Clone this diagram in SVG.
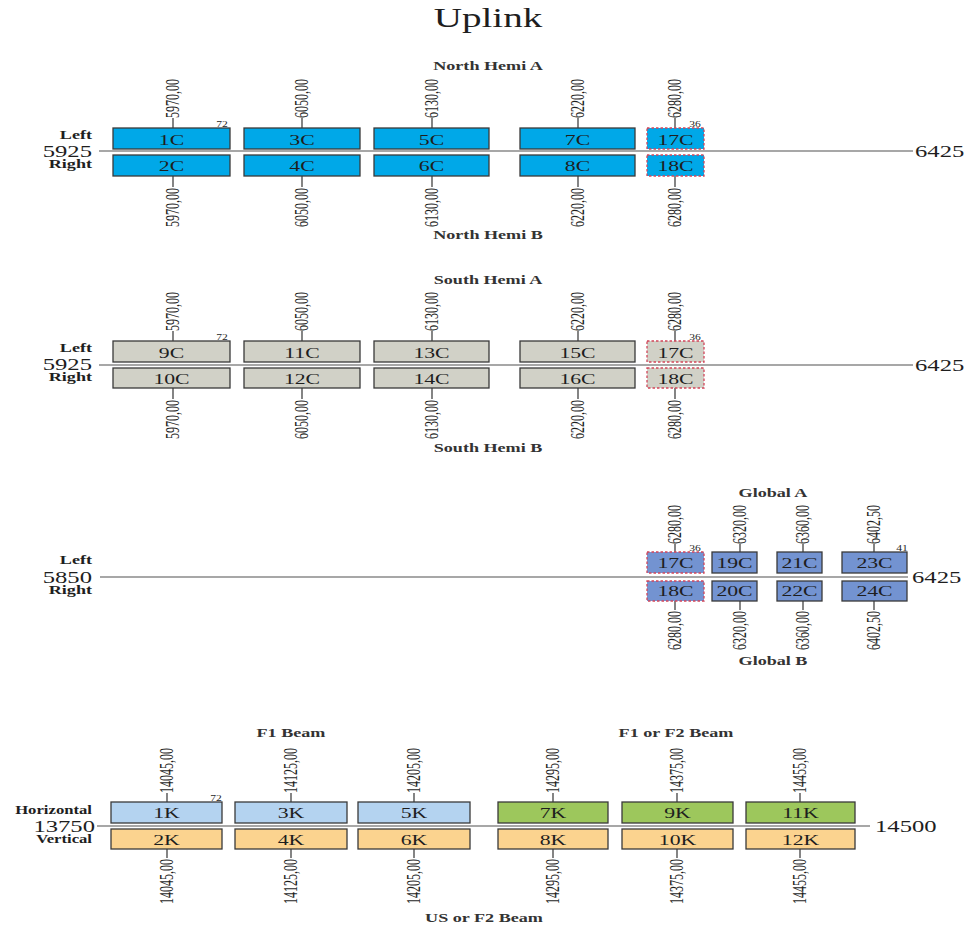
<svg xmlns="http://www.w3.org/2000/svg" width="970" height="929" viewBox="0 0 970 929">
<style>
text{font-family:"Liberation Serif","Times New Roman",serif;fill:#1e1e1e}
.title{font-size:27px;text-anchor:middle}
.sec{font-size:12.5px;font-weight:bold;text-anchor:middle;fill:#333}
.side{font-size:12.5px;font-weight:bold;text-anchor:end}
.hv{font-size:11.5px;font-weight:bold;text-anchor:end}
.big{font-size:17px}
.bigr{font-size:17px;text-anchor:end}
.lbl{font-size:15px;text-anchor:middle}
.sm{font-size:8px;text-anchor:middle}
.tk{font-size:12px}
.tkb{font-size:12px;text-anchor:end}
.axis{stroke:#8a8a8a;stroke-width:1.5;fill:none}
.tick{stroke:#333;stroke-width:1.2}
rect{stroke:#3a3a3a;stroke-width:1.3}
.nb{fill:#00A8E8}
.gr{fill:#D1D1C7}
.gb{fill:#7393D1}
.kb{fill:#B4D3F0}
.kg{fill:#9DC75C}
.ko{fill:#FBD38F}
.dash{stroke:#D2455A;stroke-dasharray:2.5 2}
</style>

<text class="title" transform="translate(488,27) scale(1.45,1)">Uplink</text>

<!-- axes -->
<g id="axes">
<line class="axis" x1="99" y1="151" x2="913" y2="151"/>
<line class="axis" x1="99" y1="365" x2="913" y2="365"/>
<line class="axis" x1="100" y1="577" x2="908" y2="577"/>
<line class="axis" x1="97" y1="826" x2="870" y2="826"/>
</g>

<!-- section / side labels -->
<g id="labels">
<text class="sec" transform="translate(488,70) scale(1.45,1)">North Hemi A</text>
<text class="sec" transform="translate(488,239) scale(1.45,1)">North Hemi B</text>
<text class="sec" transform="translate(488,284) scale(1.45,1)">South Hemi A</text>
<text class="sec" transform="translate(488,452) scale(1.45,1)">South Hemi B</text>
<text class="sec" transform="translate(773,497) scale(1.45,1)">Global A</text>
<text class="sec" transform="translate(773,665) scale(1.45,1)">Global B</text>
<text class="sec" transform="translate(291,737) scale(1.45,1)">F1 Beam</text>
<text class="sec" transform="translate(676,737) scale(1.45,1)">F1 or F2 Beam</text>
<text class="sec" transform="translate(484,922) scale(1.45,1)">US or F2 Beam</text>

<text class="side" transform="translate(92,139) scale(1.45,1)">Left</text>
<text class="bigr" transform="translate(92,157) scale(1.45,1)">5925</text>
<text class="side" transform="translate(92,168) scale(1.45,1)">Right</text>
<text class="big" transform="translate(915,157) scale(1.45,1)">6425</text>

<text class="side" transform="translate(92,352) scale(1.45,1)">Left</text>
<text class="bigr" transform="translate(92,370) scale(1.45,1)">5925</text>
<text class="side" transform="translate(92,381) scale(1.45,1)">Right</text>
<text class="big" transform="translate(915,371) scale(1.45,1)">6425</text>

<text class="side" transform="translate(92,564) scale(1.45,1)">Left</text>
<text class="bigr" transform="translate(92,583) scale(1.45,1)">5850</text>
<text class="side" transform="translate(92,594) scale(1.45,1)">Right</text>
<text class="big" transform="translate(912,583) scale(1.45,1)">6425</text>

<text class="hv" transform="translate(92,814) scale(1.45,1)">Horizontal</text>
<text class="bigr" transform="translate(95,832) scale(1.45,1)">13750</text>
<text class="hv" transform="translate(92,843) scale(1.45,1)">Vertical</text>
<text class="big" transform="translate(875,832) scale(1.45,1)">14500</text>

<text class="sm" transform="translate(222,127) scale(1.45,1)">72</text>
<text class="sm" transform="translate(695,127) scale(1.45,1)">36</text>
<text class="sm" transform="translate(222,340) scale(1.45,1)">72</text>
<text class="sm" transform="translate(695,340) scale(1.45,1)">36</text>
<text class="sm" transform="translate(695,551) scale(1.45,1)">36</text>
<text class="sm" transform="translate(902,551) scale(1.45,1)">41</text>
<text class="sm" transform="translate(216,801) scale(1.45,1)">72</text>
</g>

<!-- connectors: frequency ticks -->
<g id="connectors">
<line class="tick" x1="173" y1="118" x2="173" y2="128"/><line class="tick" x1="173" y1="176" x2="173" y2="187"/>
<line class="tick" x1="302" y1="118" x2="302" y2="128"/><line class="tick" x1="302" y1="176" x2="302" y2="187"/>
<line class="tick" x1="432" y1="118" x2="432" y2="128"/><line class="tick" x1="432" y1="176" x2="432" y2="187"/>
<line class="tick" x1="578" y1="118" x2="578" y2="128"/><line class="tick" x1="578" y1="176" x2="578" y2="187"/>
<line class="tick" x1="675" y1="118" x2="675" y2="128"/><line class="tick" x1="675" y1="176" x2="675" y2="187"/>
<line class="tick" x1="173" y1="331" x2="173" y2="341"/><line class="tick" x1="173" y1="388" x2="173" y2="399"/>
<line class="tick" x1="302" y1="331" x2="302" y2="341"/><line class="tick" x1="302" y1="388" x2="302" y2="399"/>
<line class="tick" x1="432" y1="331" x2="432" y2="341"/><line class="tick" x1="432" y1="388" x2="432" y2="399"/>
<line class="tick" x1="578" y1="331" x2="578" y2="341"/><line class="tick" x1="578" y1="388" x2="578" y2="399"/>
<line class="tick" x1="675" y1="331" x2="675" y2="341"/><line class="tick" x1="675" y1="388" x2="675" y2="399"/>
<line class="tick" x1="675" y1="544" x2="675" y2="552"/><line class="tick" x1="675" y1="601" x2="675" y2="610"/>
<line class="tick" x1="740" y1="544" x2="740" y2="552"/><line class="tick" x1="740" y1="601" x2="740" y2="610"/>
<line class="tick" x1="803" y1="544" x2="803" y2="552"/><line class="tick" x1="803" y1="601" x2="803" y2="610"/>
<line class="tick" x1="874" y1="544" x2="874" y2="552"/><line class="tick" x1="874" y1="601" x2="874" y2="610"/>
<line class="tick" x1="167" y1="793" x2="167" y2="802"/><line class="tick" x1="167" y1="849" x2="167" y2="858"/>
<line class="tick" x1="291" y1="793" x2="291" y2="802"/><line class="tick" x1="291" y1="849" x2="291" y2="858"/>
<line class="tick" x1="414" y1="793" x2="414" y2="802"/><line class="tick" x1="414" y1="849" x2="414" y2="858"/>
<line class="tick" x1="553" y1="793" x2="553" y2="802"/><line class="tick" x1="553" y1="849" x2="553" y2="858"/>
<line class="tick" x1="677" y1="793" x2="677" y2="802"/><line class="tick" x1="677" y1="849" x2="677" y2="858"/>
<line class="tick" x1="800" y1="793" x2="800" y2="802"/><line class="tick" x1="800" y1="849" x2="800" y2="858"/>
</g>

<g id="tick-labels">
<text class="tk" dy="0.35em" transform="translate(172,118) scale(1.6,1) rotate(-90)">5970,00</text>
<text class="tkb" dy="0.35em" transform="translate(172,188) scale(1.6,1) rotate(-90)">5970,00</text>
<text class="tk" dy="0.35em" transform="translate(301,118) scale(1.6,1) rotate(-90)">6050,00</text>
<text class="tkb" dy="0.35em" transform="translate(301,188) scale(1.6,1) rotate(-90)">6050,00</text>
<text class="tk" dy="0.35em" transform="translate(431,118) scale(1.6,1) rotate(-90)">6130,00</text>
<text class="tkb" dy="0.35em" transform="translate(431,188) scale(1.6,1) rotate(-90)">6130,00</text>
<text class="tk" dy="0.35em" transform="translate(577,118) scale(1.6,1) rotate(-90)">6220,00</text>
<text class="tkb" dy="0.35em" transform="translate(577,188) scale(1.6,1) rotate(-90)">6220,00</text>
<text class="tk" dy="0.35em" transform="translate(674,118) scale(1.6,1) rotate(-90)">6280,00</text>
<text class="tkb" dy="0.35em" transform="translate(674,188) scale(1.6,1) rotate(-90)">6280,00</text>
<text class="tk" dy="0.35em" transform="translate(172,331) scale(1.6,1) rotate(-90)">5970,00</text>
<text class="tkb" dy="0.35em" transform="translate(172,400) scale(1.6,1) rotate(-90)">5970,00</text>
<text class="tk" dy="0.35em" transform="translate(301,331) scale(1.6,1) rotate(-90)">6050,00</text>
<text class="tkb" dy="0.35em" transform="translate(301,400) scale(1.6,1) rotate(-90)">6050,00</text>
<text class="tk" dy="0.35em" transform="translate(431,331) scale(1.6,1) rotate(-90)">6130,00</text>
<text class="tkb" dy="0.35em" transform="translate(431,400) scale(1.6,1) rotate(-90)">6130,00</text>
<text class="tk" dy="0.35em" transform="translate(577,331) scale(1.6,1) rotate(-90)">6220,00</text>
<text class="tkb" dy="0.35em" transform="translate(577,400) scale(1.6,1) rotate(-90)">6220,00</text>
<text class="tk" dy="0.35em" transform="translate(674,331) scale(1.6,1) rotate(-90)">6280,00</text>
<text class="tkb" dy="0.35em" transform="translate(674,400) scale(1.6,1) rotate(-90)">6280,00</text>
<text class="tk" dy="0.35em" transform="translate(674,544) scale(1.6,1) rotate(-90)">6280,00</text>
<text class="tkb" dy="0.35em" transform="translate(674,611) scale(1.6,1) rotate(-90)">6280,00</text>
<text class="tk" dy="0.35em" transform="translate(739,544) scale(1.6,1) rotate(-90)">6320,00</text>
<text class="tkb" dy="0.35em" transform="translate(739,611) scale(1.6,1) rotate(-90)">6320,00</text>
<text class="tk" dy="0.35em" transform="translate(802,544) scale(1.6,1) rotate(-90)">6360,00</text>
<text class="tkb" dy="0.35em" transform="translate(802,611) scale(1.6,1) rotate(-90)">6360,00</text>
<text class="tk" dy="0.35em" transform="translate(873,544) scale(1.6,1) rotate(-90)">6402,50</text>
<text class="tkb" dy="0.35em" transform="translate(873,611) scale(1.6,1) rotate(-90)">6402,50</text>
<text class="tk" dy="0.35em" transform="translate(166,793) scale(1.6,1) rotate(-90)">14045,00</text>
<text class="tkb" dy="0.35em" transform="translate(166,859) scale(1.6,1) rotate(-90)">14045,00</text>
<text class="tk" dy="0.35em" transform="translate(290,793) scale(1.6,1) rotate(-90)">14125,00</text>
<text class="tkb" dy="0.35em" transform="translate(290,859) scale(1.6,1) rotate(-90)">14125,00</text>
<text class="tk" dy="0.35em" transform="translate(413,793) scale(1.6,1) rotate(-90)">14205,00</text>
<text class="tkb" dy="0.35em" transform="translate(413,859) scale(1.6,1) rotate(-90)">14205,00</text>
<text class="tk" dy="0.35em" transform="translate(552,793) scale(1.6,1) rotate(-90)">14295,00</text>
<text class="tkb" dy="0.35em" transform="translate(552,859) scale(1.6,1) rotate(-90)">14295,00</text>
<text class="tk" dy="0.35em" transform="translate(676,793) scale(1.6,1) rotate(-90)">14375,00</text>
<text class="tkb" dy="0.35em" transform="translate(676,859) scale(1.6,1) rotate(-90)">14375,00</text>
<text class="tk" dy="0.35em" transform="translate(799,793) scale(1.6,1) rotate(-90)">14455,00</text>
<text class="tkb" dy="0.35em" transform="translate(799,859) scale(1.6,1) rotate(-90)">14455,00</text>
</g>

<g id="n1-1C"><rect class="nb" x="113" y="128" width="117" height="21"/><text class="lbl" transform="translate(171.5,145) scale(1.45,1)">1C</text></g>
<g id="n1-2C"><rect class="nb" x="113" y="155" width="117" height="21"/><text class="lbl" transform="translate(171.5,171) scale(1.45,1)">2C</text></g>
<g id="n1-3C"><rect class="nb" x="244" y="128" width="116" height="21"/><text class="lbl" transform="translate(302,145) scale(1.45,1)">3C</text></g>
<g id="n1-4C"><rect class="nb" x="244" y="155" width="116" height="21"/><text class="lbl" transform="translate(302,171) scale(1.45,1)">4C</text></g>
<g id="n1-5C"><rect class="nb" x="374" y="128" width="115" height="21"/><text class="lbl" transform="translate(431.5,145) scale(1.45,1)">5C</text></g>
<g id="n1-6C"><rect class="nb" x="374" y="155" width="115" height="21"/><text class="lbl" transform="translate(431.5,171) scale(1.45,1)">6C</text></g>
<g id="n1-7C"><rect class="nb" x="520" y="128" width="115" height="21"/><text class="lbl" transform="translate(577.5,145) scale(1.45,1)">7C</text></g>
<g id="n1-8C"><rect class="nb" x="520" y="155" width="115" height="21"/><text class="lbl" transform="translate(577.5,171) scale(1.45,1)">8C</text></g>
<g id="n1-17C"><rect class="nb dash" x="647" y="128" width="57" height="21"/><text class="lbl" transform="translate(675.5,145) scale(1.45,1)">17C</text></g>
<g id="n1-18C"><rect class="nb dash" x="647" y="155" width="57" height="21"/><text class="lbl" transform="translate(675.5,171) scale(1.45,1)">18C</text></g>

<g id="n2-9C"><rect class="gr" x="113" y="341" width="117" height="21"/><text class="lbl" transform="translate(171.5,358) scale(1.45,1)">9C</text></g>
<g id="n2-10C"><rect class="gr" x="113" y="368" width="117" height="20"/><text class="lbl" transform="translate(171.5,384) scale(1.45,1)">10C</text></g>
<g id="n2-11C"><rect class="gr" x="244" y="341" width="116" height="21"/><text class="lbl" transform="translate(302,358) scale(1.45,1)">11C</text></g>
<g id="n2-12C"><rect class="gr" x="244" y="368" width="116" height="20"/><text class="lbl" transform="translate(302,384) scale(1.45,1)">12C</text></g>
<g id="n2-13C"><rect class="gr" x="374" y="341" width="115" height="21"/><text class="lbl" transform="translate(431.5,358) scale(1.45,1)">13C</text></g>
<g id="n2-14C"><rect class="gr" x="374" y="368" width="115" height="20"/><text class="lbl" transform="translate(431.5,384) scale(1.45,1)">14C</text></g>
<g id="n2-15C"><rect class="gr" x="520" y="341" width="115" height="21"/><text class="lbl" transform="translate(577.5,358) scale(1.45,1)">15C</text></g>
<g id="n2-16C"><rect class="gr" x="520" y="368" width="115" height="20"/><text class="lbl" transform="translate(577.5,384) scale(1.45,1)">16C</text></g>
<g id="n2-17C"><rect class="gr dash" x="647" y="341" width="57" height="21"/><text class="lbl" transform="translate(675.5,358) scale(1.45,1)">17C</text></g>
<g id="n2-18C"><rect class="gr dash" x="647" y="368" width="57" height="20"/><text class="lbl" transform="translate(675.5,384) scale(1.45,1)">18C</text></g>

<g id="n3-17C"><rect class="gb dash" x="647" y="552" width="57" height="21"/><text class="lbl" transform="translate(675.5,568) scale(1.45,1)">17C</text></g>
<g id="n3-18C"><rect class="gb dash" x="647" y="581" width="57" height="20"/><text class="lbl" transform="translate(675.5,596) scale(1.45,1)">18C</text></g>
<g id="n3-19C"><rect class="gb" x="712" y="552" width="45" height="21"/><text class="lbl" transform="translate(734.5,568) scale(1.45,1)">19C</text></g>
<g id="n3-20C"><rect class="gb" x="712" y="581" width="45" height="20"/><text class="lbl" transform="translate(734.5,596) scale(1.45,1)">20C</text></g>
<g id="n3-21C"><rect class="gb" x="777" y="552" width="45" height="21"/><text class="lbl" transform="translate(799.5,568) scale(1.45,1)">21C</text></g>
<g id="n3-22C"><rect class="gb" x="777" y="581" width="45" height="20"/><text class="lbl" transform="translate(799.5,596) scale(1.45,1)">22C</text></g>
<g id="n3-23C"><rect class="gb" x="842" y="552" width="65" height="21"/><text class="lbl" transform="translate(874.5,568) scale(1.45,1)">23C</text></g>
<g id="n3-24C"><rect class="gb" x="842" y="581" width="65" height="20"/><text class="lbl" transform="translate(874.5,596) scale(1.45,1)">24C</text></g>

<g id="n4-1K"><rect class="kb" x="111" y="802" width="111" height="21"/><text class="lbl" transform="translate(166.5,818) scale(1.45,1)">1K</text></g>
<g id="n4-2K"><rect class="ko" x="111" y="829" width="111" height="20"/><text class="lbl" transform="translate(166.5,845) scale(1.45,1)">2K</text></g>
<g id="n4-3K"><rect class="kb" x="235" y="802" width="112" height="21"/><text class="lbl" transform="translate(291,818) scale(1.45,1)">3K</text></g>
<g id="n4-4K"><rect class="ko" x="235" y="829" width="112" height="20"/><text class="lbl" transform="translate(291,845) scale(1.45,1)">4K</text></g>
<g id="n4-5K"><rect class="kb" x="358" y="802" width="112" height="21"/><text class="lbl" transform="translate(414,818) scale(1.45,1)">5K</text></g>
<g id="n4-6K"><rect class="ko" x="358" y="829" width="112" height="20"/><text class="lbl" transform="translate(414,845) scale(1.45,1)">6K</text></g>
<g id="n4-7K"><rect class="kg" x="498" y="802" width="110" height="21"/><text class="lbl" transform="translate(553,818) scale(1.45,1)">7K</text></g>
<g id="n4-8K"><rect class="ko" x="498" y="829" width="110" height="20"/><text class="lbl" transform="translate(553,845) scale(1.45,1)">8K</text></g>
<g id="n4-9K"><rect class="kg" x="622" y="802" width="111" height="21"/><text class="lbl" transform="translate(677.5,818) scale(1.45,1)">9K</text></g>
<g id="n4-10K"><rect class="ko" x="622" y="829" width="111" height="20"/><text class="lbl" transform="translate(677.5,845) scale(1.45,1)">10K</text></g>
<g id="n4-11K"><rect class="kg" x="746" y="802" width="109" height="21"/><text class="lbl" transform="translate(800.5,818) scale(1.45,1)">11K</text></g>
<g id="n4-12K"><rect class="ko" x="746" y="829" width="109" height="20"/><text class="lbl" transform="translate(800.5,845) scale(1.45,1)">12K</text></g>
</svg>
